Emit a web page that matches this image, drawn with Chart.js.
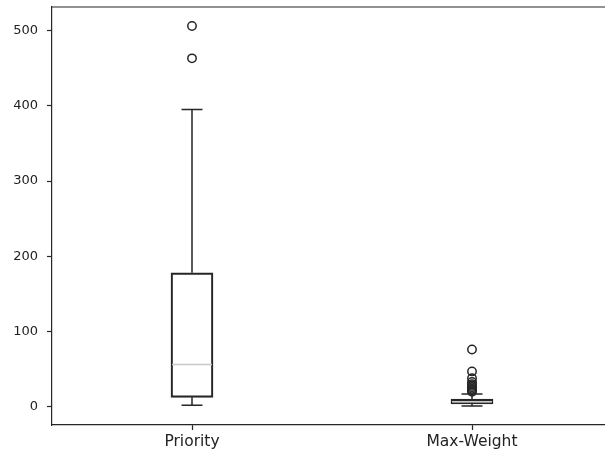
<!DOCTYPE html>
<html>
<head>
<meta charset="utf-8">
<script src="https://cdn.jsdelivr.net/npm/chart.js@4/dist/chart.umd.min.js"></script>
<style>
  html, body { margin: 0; padding: 0; background: #fff; overflow: hidden; width: 605px; height: 458px; }
  #wrap { position: relative; width: 620px; height: 458px; }
</style>
</head>
<body>
<div id="wrap"><canvas id="c"></canvas></div>
<script>
const categories = ['Priority', 'Max-Weight'];
const positions = [1, 2];
const q1 = [12.5, 3.6];
const q3 = [178, 10.2];
const medians = [56, 6.5];
const whiskerLow = [2, 1];
const whiskerHigh = [395, 17];
const outliersPriority = [463, 506];
const outliersMaxWeight = [76, 47, 38, 33, 30, 28, 26, 24, 22, 20];
const yTicks = [0, 100, 200, 300, 400, 500];

const INK = '#262626';
const BOX_HALF = 0.075;   // box half-width in x units
const CAP_HALF = 0.0375;  // cap half-width in x units

const boxData = positions.map((p, i) => ({ x: p, y: [q1[i], q3[i]] }));
const outlierData = []
  .concat(outliersPriority.map(v => ({ x: positions[0], y: v })))
  .concat(outliersMaxWeight.map(v => ({ x: positions[1], y: v })));

const boxExtras = {
  id: 'boxExtras',
  afterDatasetsDraw(chart) {
    const ctx = chart.ctx;
    const xs = chart.scales.x, ys = chart.scales.y;
    ctx.save();
    positions.forEach((p, i) => {
      const cx = xs.getPixelForValue(p);
      ctx.strokeStyle = INK;
      ctx.lineWidth = 1.5;
      ctx.beginPath();
      ctx.moveTo(cx, ys.getPixelForValue(q3[i]));
      ctx.lineTo(cx, ys.getPixelForValue(whiskerHigh[i]));
      ctx.moveTo(cx, ys.getPixelForValue(q1[i]));
      ctx.lineTo(cx, ys.getPixelForValue(whiskerLow[i]));
      const cl = xs.getPixelForValue(p - CAP_HALF), cr = xs.getPixelForValue(p + CAP_HALF);
      ctx.moveTo(cl, ys.getPixelForValue(whiskerHigh[i]));
      ctx.lineTo(cr, ys.getPixelForValue(whiskerHigh[i]));
      ctx.moveTo(cl, ys.getPixelForValue(whiskerLow[i]));
      ctx.lineTo(cr, ys.getPixelForValue(whiskerLow[i]));
      ctx.stroke();
      ctx.strokeStyle = '#c8c8c8';
      ctx.lineWidth = 1.5;
      ctx.beginPath();
      const bl = xs.getPixelForValue(p - BOX_HALF) + 1, br = xs.getPixelForValue(p + BOX_HALF) - 1;
      ctx.moveTo(bl, ys.getPixelForValue(medians[i]));
      ctx.lineTo(br, ys.getPixelForValue(medians[i]));
      ctx.stroke();
    });
    const a = chart.chartArea;
    ctx.strokeStyle = INK;
    ctx.lineWidth = 1.2;
    ctx.beginPath();
    ctx.moveTo(a.left, a.top);
    ctx.lineTo(a.right, a.top);
    ctx.lineTo(a.right, a.bottom);
    ctx.stroke();
    ctx.restore();
  }
};

new Chart(document.getElementById('c'), {
  type: 'bar',
  data: {
    datasets: [
      {
        type: 'bar',
        data: boxData,
        backgroundColor: 'rgba(0,0,0,0)',
        borderColor: INK,
        borderWidth: 1.5,
        borderSkipped: false,
        barThickness: 42,
        order: 2
      },
      {
        type: 'scatter',
        data: outlierData,
        pointStyle: 'circle',
        pointRadius: 4.2,
        borderWidth: 1.5,
        borderColor: INK,
        backgroundColor: 'rgba(0,0,0,0)',
        order: 1
      }
    ]
  },
  options: {
    responsive: true,
    maintainAspectRatio: false,
    animation: false,
    events: [],
    layout: { padding: { top: 7, right: 8, left: 0, bottom: 0 } },
    plugins: { legend: { display: false }, tooltip: { enabled: false } },
    scales: {
      x: {
        type: 'linear',
        min: 0.5,
        max: 2.5,
        offset: false,
        afterBuildTicks(scale) { scale.ticks = positions.map(v => ({ value: v })); },
        afterFit(scale) { scale.height = 33; scale.paddingLeft = 0; scale.paddingRight = 0; },
        ticks: {
          callback: (v) => { const i = positions.indexOf(v); return i >= 0 ? categories[i] : ''; },
          color: '#222',
          font: { family: 'DejaVu Sans', size: 15.5 },
          padding: 3,
          maxRotation: 0,
          autoSkip: false
        },
        grid: { display: true, offset: false, drawOnChartArea: false, tickLength: 5, color: INK, tickWidth: 1.2 },
        border: { display: true, color: INK, width: 1.2 }
      },
      y: {
        type: 'linear',
        min: -24.25,
        max: 531.25,
        afterBuildTicks(scale) { scale.ticks = yTicks.map(v => ({ value: v })); },
        afterFit(scale) { scale.width = 52; scale.paddingTop = 0; scale.paddingBottom = 0; },
        ticks: {
          color: '#222',
          font: { family: 'DejaVu Sans', size: 13 },
          padding: 9
        },
        grid: { display: true, offset: false, drawOnChartArea: false, tickLength: 5, color: INK, tickWidth: 1.2 },
        border: { display: true, color: INK, width: 1.2 }
      }
    }
  },
  plugins: [boxExtras]
});
</script>
</body>
</html>
